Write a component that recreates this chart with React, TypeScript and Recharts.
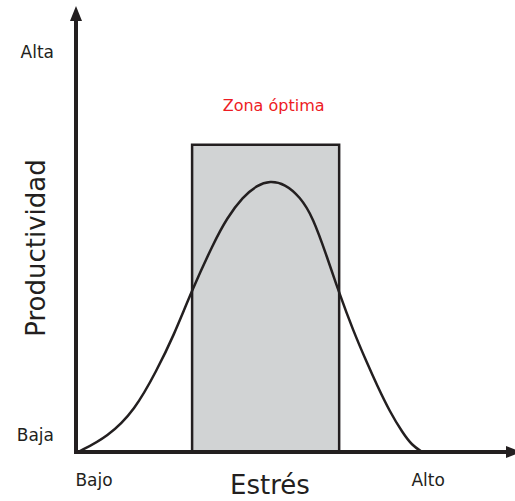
import React from 'react';
import { ComposedChart, Line, XAxis, YAxis, ReferenceArea } from 'recharts';

// Curve: stress (x) vs productivity (y), both on a 0-100 scale
const stress = [0.5, 7.4, 13.7, 18.8, 22.6, 27.0, 31.9, 35.1, 38.8, 42.1, 45.1, 48.6, 52.1, 55.1, 58.4, 61.2, 64.4, 67.7, 70.0, 73.0, 76.0, 78.1, 80.5];
const productivity = [0, 3.5, 9.7, 19.0, 26.7, 37.6, 48.3, 54.3, 59.2, 61.9, 62.9, 62.2, 59.2, 54.5, 45.2, 36.9, 28.3, 20.6, 15.5, 9.3, 4.4, 1.6, 0];

// Optimal zone box
const zoneX = [27.0, 61.2];
const zoneTop = 71.3;
const zoneLabel = 'Zona óptima';

const xTickValues = [4.2, 81.9];
const xTickLabels = ['Bajo', 'Alto'];
const yTickValues = [3.9, 92.8];
const yTickLabels = ['Baja', 'Alta'];

const data = stress.map((s, i) => ({ stress: s, productivity: productivity[i] }));

const INK = '#231f20';
const FONT = 'DejaVu Sans';

const ZoneLabel = ({ viewBox }: any) => (
    <text
        x={viewBox.x + viewBox.width / 2 + 8}
        y={viewBox.y - 34}
        textAnchor="middle"
        fill="#ed1c24"
        fontSize={16}
        fontFamily={FONT}
    >
        {zoneLabel}
    </text>
);

const YTitle = ({ viewBox }: any) => {
    const x = viewBox.x + 45;
    const y = viewBox.y + 227;
    return (
        <text
            x={x}
            y={y}
            transform={`rotate(-90 ${x} ${y})`}
            textAnchor="middle"
            fill={INK}
            fontSize={26}
            fontFamily={FONT}
        >
            Productividad
        </text>
    );
};

const XTitle = ({ viewBox }: any) => (
    <text
        x={viewBox.x + 194}
        y={viewBox.y + 42}
        textAnchor="middle"
        fill={INK}
        fontSize={26}
        fontFamily={FONT}
    >
        Estrés
    </text>
);

export default function App() {
    return (
        <div style={{ position: 'absolute', left: 0, top: 0, width: 515, height: 501, background: '#fff' }}>
            <ComposedChart width={515} height={501} data={data} margin={{ top: 21, right: 9, bottom: 0, left: 0 }}>
                <defs>
                    <marker id="arrow" markerUnits="userSpaceOnUse" markerWidth={15} markerHeight={12}
                        refX={0} refY={6} orient="auto-start-reverse">
                        <path d="M0,0 L15,6 L0,12 Z" fill={INK} />
                    </marker>
                </defs>
                <ReferenceArea
                    x1={zoneX[0]}
                    x2={zoneX[1]}
                    y1={0}
                    y2={zoneTop}
                    fill="#d1d3d4"
                    fillOpacity={1}
                    stroke={INK}
                    strokeWidth={2.5}
                    label={<ZoneLabel />}
                />
                <Line
                    type="basis"
                    dataKey="productivity"
                    stroke={INK}
                    strokeWidth={2.5}
                    dot={false}
                    activeDot={false}
                    isAnimationActive={false}
                />
                <XAxis
                    dataKey="stress"
                    type="number"
                    domain={[0, 100]}
                    height={49}
                    ticks={xTickValues}
                    tickFormatter={(_v: number, i: number) => xTickLabels[i]}
                    tickLine={false}
                    tickMargin={16}
                    tick={{ fill: INK, fontSize: 17, fontFamily: FONT }}
                    axisLine={{ stroke: INK, strokeWidth: 4, strokeLinecap: 'square', markerEnd: 'url(#arrow)' }}
                    label={<XTitle />}
                />
                <YAxis
                    type="number"
                    domain={[0, 100]}
                    width={76}
                    ticks={yTickValues}
                    tickFormatter={(_v: number, i: number) => yTickLabels[i]}
                    tickLine={false}
                    tickMargin={16}
                    tick={{ fill: INK, fontSize: 17, fontFamily: FONT }}
                    axisLine={{ stroke: INK, strokeWidth: 4, strokeLinecap: 'square', markerStart: 'url(#arrow)' }}
                    label={<YTitle />}
                />
            </ComposedChart>
        </div>
    );
}
